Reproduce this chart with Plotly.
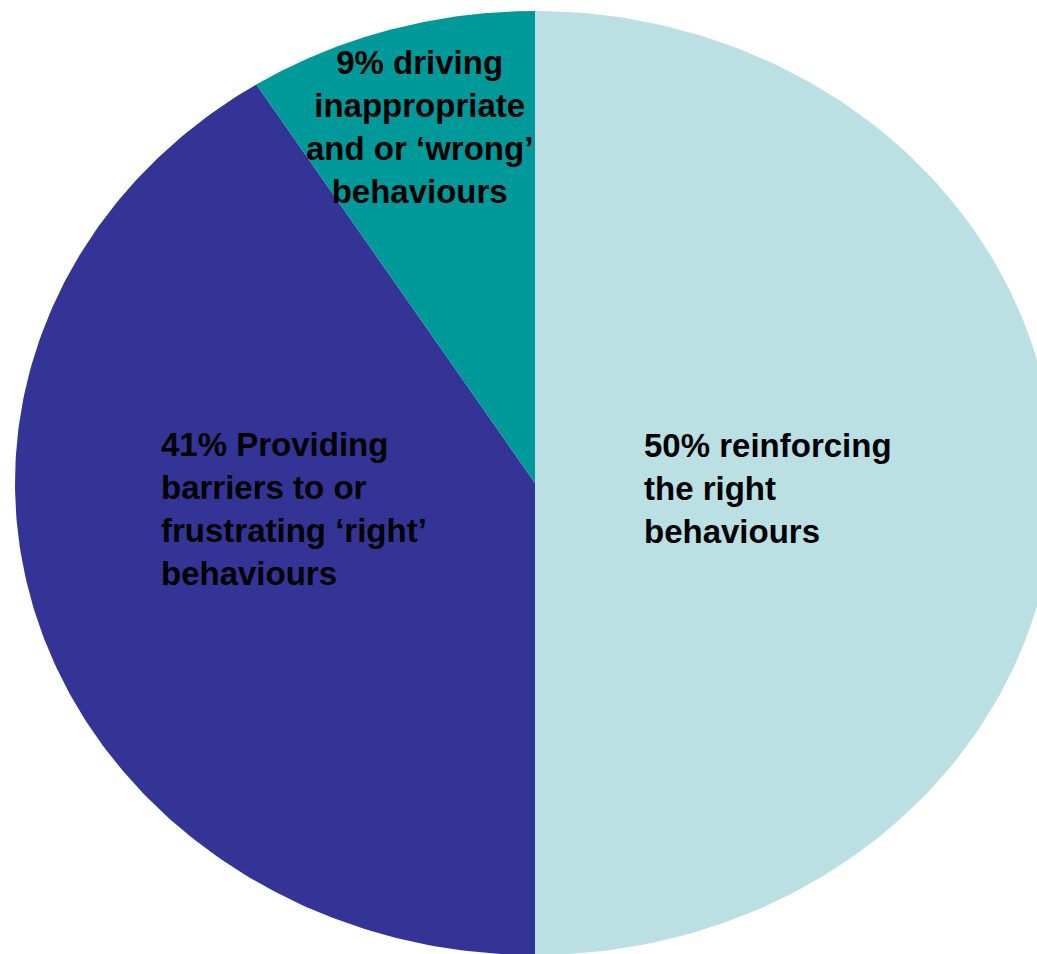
import numpy as np
import plotly.graph_objects as go

# slices, clockwise from 12 o'clock
labels = ["50% reinforcing<br>the right<br>behaviours",
          "41% Providing<br>barriers to or<br>frustrating \u2018right\u2019<br>behaviours",
          "9% driving<br>inappropriate<br>and or \u2018wrong\u2019<br>behaviours"]
values = [50, 41, 9]
colors = ["#BAE0E3", "#343496", "#009999"]

# the original pie is stretched sideways, so it is drawn as filled
# wedges on free (unanchored) axes instead of go.Pie
W, H = 1037, 954
cx, cy = 535, 483          # centre, px
rx, ry = 520, 472          # radii, px

fig = go.Figure()
frac = np.cumsum([0] + values) / sum(values)
for i in range(len(values)):
    t = np.linspace(frac[i], frac[i + 1], 200) * 2 * np.pi
    xs = np.concatenate([[0], np.sin(t), [0]])
    ys = np.concatenate([[0], np.cos(t), [0]])
    fig.add_trace(go.Scatter(x=xs, y=ys, mode="lines", fill="toself",
                             fillcolor=colors[i], line=dict(width=0, color=colors[i]),
                             hoverinfo="skip", showlegend=False))

# label placement (paper coords): x, y, xanchor, align
label_pos = [(642 / W, 1 - 488 / H, "left", "left"),
             (159 / W, 1 - 509 / H, "left", "left"),
             (419 / W, 1 - 127 / H, "center", "center")]
for txt, (x, y, xa, al) in zip(labels, label_pos):
    fig.add_annotation(x=x, y=y, xref="paper", yref="paper", text="<b>" + txt + "</b>",
                       showarrow=False, xanchor=xa, yanchor="middle", align=al,
                       font=dict(family="Liberation Sans, Arial, sans-serif", size=33, color="#000000"))

fig.update_xaxes(range=[-cx / rx, (W - cx) / rx], visible=False, fixedrange=True)
fig.update_yaxes(range=[-(H - cy) / ry, cy / ry], visible=False, fixedrange=True)
fig.update_layout(width=W, height=H, margin=dict(l=0, r=0, t=0, b=0),
                  paper_bgcolor="white", plot_bgcolor="white")

# drop the page's default 8px body margin so the figure fills the window
fig.write_html("out.html", config={"displayModeBar": False},
               post_script="document.body.style.margin='0px';")
